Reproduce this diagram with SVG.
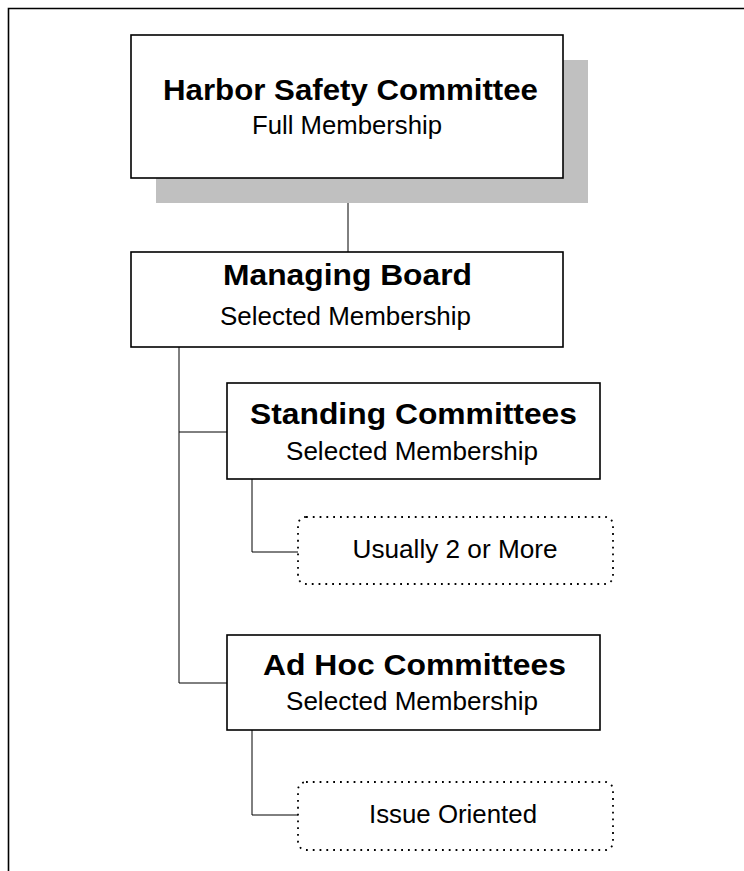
<svg xmlns="http://www.w3.org/2000/svg" width="744" height="871" viewBox="0 0 744 871">
<style>
.box{fill:#fff;stroke:#000;stroke-width:1.6}
.dot{fill:#fff;stroke:#000;stroke-width:1.8;stroke-dasharray:1.8 5;stroke-linecap:butt}
.b{font-family:"Liberation Sans",Arial,sans-serif;font-weight:bold;font-size:29px;fill:#000;text-anchor:middle}
.r{font-family:"Liberation Sans",Arial,sans-serif;font-size:25px;fill:#000;text-anchor:middle}
.c{fill:none;stroke:#000;stroke-width:1}
</style>
<rect width="744" height="871" fill="#fff"/>
<path d="M8.5 871 V8.5 H744" fill="none" stroke="#000" stroke-width="1.6"/>
<g id="connectors">
<path class="c" d="M348 178 V252"/>
<path class="c" d="M179 347 V683 H227"/>
<path class="c" d="M179 432 H227"/>
<path class="c" d="M252 479 V552 H298"/>
<path class="c" d="M252 730 V815 H298"/>
</g>
<g id="harbor">
<rect x="156" y="60" width="432" height="143" fill="#c0c0c0"/>
<rect class="box" x="131" y="35" width="432" height="143"/>
<text class="b" x="350.5" y="100" textLength="375" lengthAdjust="spacingAndGlyphs">Harbor Safety Committee</text>
<text class="r" x="347" y="134" textLength="190" lengthAdjust="spacingAndGlyphs">Full Membership</text>
</g>
<g id="managing">
<rect class="box" x="131" y="252" width="432" height="95"/>
<text class="b" x="347.5" y="285" textLength="249" lengthAdjust="spacingAndGlyphs">Managing Board</text>
<text class="r" x="345.5" y="325" textLength="251" lengthAdjust="spacingAndGlyphs">Selected Membership</text>
</g>
<g id="standing">
<rect class="box" x="227" y="383" width="373" height="96"/>
<text class="b" x="413.5" y="424" textLength="327" lengthAdjust="spacingAndGlyphs">Standing Committees</text>
<text class="r" x="412" y="460" textLength="252" lengthAdjust="spacingAndGlyphs">Selected Membership</text>
</g>
<g id="usually">
<rect class="dot" x="298" y="517" width="315" height="67" rx="8"/>
<text class="r" x="455" y="558" textLength="205" lengthAdjust="spacingAndGlyphs">Usually 2 or More</text>
</g>
<g id="adhoc">
<rect class="box" x="227" y="635" width="373" height="95"/>
<text class="b" x="414.5" y="675" textLength="303" lengthAdjust="spacingAndGlyphs">Ad Hoc Committees</text>
<text class="r" x="412" y="710" textLength="252" lengthAdjust="spacingAndGlyphs">Selected Membership</text>
</g>
<g id="issue">
<rect class="dot" x="298" y="782" width="315" height="68" rx="8"/>
<text class="r" x="453" y="823" textLength="168" lengthAdjust="spacingAndGlyphs">Issue Oriented</text>
</g>
</svg>
